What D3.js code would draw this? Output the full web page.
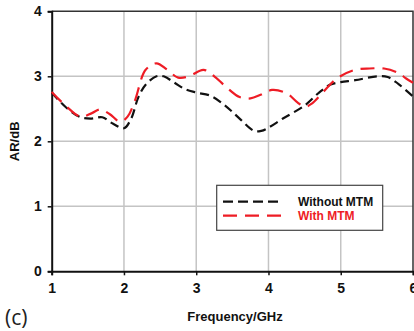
<!DOCTYPE html>
<html>
<head>
<meta charset="utf-8">
<script src="https://cdn.jsdelivr.net/npm/d3@7"></script>
<style>
  body { margin: 0; background: white; }
  text { font-family: "Liberation Sans", Arial, sans-serif; }
</style>
</head>
<body>
<div id="chart"></div>
<script>
// frequency (GHz) / axial ratio (dB)
var freqWithout = [1.0, 1.2, 1.4, 1.55, 1.7, 1.85, 2.0, 2.1, 2.2, 2.3, 2.45, 2.55, 2.7, 2.85, 3.0, 3.2, 3.4, 3.6, 3.8, 3.9, 4.0, 4.2, 4.5, 4.7, 4.85, 5.0, 5.2, 5.5, 5.65, 5.8, 6.0];
var arWithout   = [2.75, 2.52, 2.37, 2.35, 2.37, 2.27, 2.2, 2.35, 2.68, 2.87, 3.0, 3.0, 2.9, 2.8, 2.75, 2.7, 2.55, 2.35, 2.16, 2.16, 2.21, 2.35, 2.55, 2.75, 2.87, 2.91, 2.94, 3.0, 2.99, 2.88, 2.69];

var freqWith = [1.0, 1.2, 1.4, 1.55, 1.67, 1.8, 1.95, 2.05, 2.15, 2.3, 2.45, 2.6, 2.75, 2.9, 3.1, 3.25, 3.4, 3.6, 3.75, 3.9, 4.05, 4.25, 4.4, 4.5, 4.6, 4.75, 4.95, 5.2, 5.4, 5.6, 5.8, 5.9, 6.0];
var arWith   = [2.76, 2.54, 2.38, 2.43, 2.49, 2.42, 2.3, 2.38, 2.62, 3.1, 3.2, 3.1, 2.98, 3.0, 3.1, 3.0, 2.85, 2.68, 2.66, 2.72, 2.79, 2.74, 2.6, 2.53, 2.58, 2.75, 2.97, 3.1, 3.12, 3.12, 3.05, 2.97, 2.9];

var xTicks = [1, 2, 3, 4, 5, 6];
var yTicks = [0, 1, 2, 3, 4];
var seriesNames = ["Without MTM", "With MTM"];

var width = 414, height = 331;
var plotLeft = 51.7, plotRight = 413, plotTop = 11.3, plotBottom = 271.3;

var svg = d3.select("#chart").append("svg")
    .attr("width", width)
    .attr("height", height)
    .style("background", "white");

var x = d3.scaleLinear().domain([1, 6]).range([plotLeft, plotRight]);
var y = d3.scaleLinear().domain([0, 4]).range([plotBottom, plotTop]);

// grid
svg.selectAll("line.vgrid")
  .data(xTicks.slice(1, -1))
  .enter().append("line")
    .attr("x1", function(d) { return x(d); })
    .attr("x2", function(d) { return x(d); })
    .attr("y1", plotTop).attr("y2", plotBottom)
    .attr("stroke", "#c4c4c4").attr("stroke-width", 1.5);

svg.selectAll("line.hgrid")
  .data(yTicks.slice(1, -1))
  .enter().append("line")
    .attr("x1", plotLeft).attr("x2", plotRight)
    .attr("y1", function(d) { return y(d); })
    .attr("y2", function(d) { return y(d); })
    .attr("stroke", "#c4c4c4").attr("stroke-width", 1.5);

// frame top / right
svg.append("path")
    .attr("d", "M" + plotLeft + "," + plotTop + "H" + plotRight + "V" + plotBottom)
    .attr("fill", "none")
    .attr("stroke", "#333")
    .attr("stroke-width", 1.5);

// axes
var xAxis = svg.append("g")
    .attr("transform", "translate(0," + plotBottom + ")")
    .call(d3.axisBottom(x).tickValues(xTicks).tickSize(4).tickPadding(8).tickFormat(d3.format("d")));
var yAxis = svg.append("g")
    .attr("transform", "translate(" + plotLeft + ",0)")
    .call(d3.axisLeft(y).tickValues(yTicks).tickSize(4).tickPadding(6).tickFormat(d3.format("d")));

[xAxis, yAxis].forEach(function(g) {
  g.select(".domain").attr("stroke", "#111").attr("stroke-width", 2);
  g.selectAll(".tick line").attr("stroke", "#111").attr("stroke-width", 1.5);
  g.selectAll(".tick text")
    .attr("fill", "#111")
    .style("font-size", "14px")
    .style("font-weight", "bold")
    .style("font-family", "'Liberation Sans', Arial, sans-serif");
});

// lines
var line = d3.line()
    .x(function(d) { return x(d[0]); })
    .y(function(d) { return y(d[1]); })
    .curve(d3.curveCatmullRom.alpha(0.5));

var dataWithout = d3.zip(freqWithout, arWithout);
var dataWith = d3.zip(freqWith, arWith);

svg.append("path")
    .datum(dataWithout)
    .attr("d", line)
    .attr("fill", "none")
    .attr("stroke", "#111")
    .attr("stroke-width", 2.2)
    .attr("stroke-dasharray", "9,5");

svg.append("path")
    .datum(dataWith)
    .attr("d", line)
    .attr("fill", "none")
    .attr("stroke", "#ee1c25")
    .attr("stroke-width", 2.2)
    .attr("stroke-dasharray", "14,8");

// legend
var legend = svg.append("g");
legend.append("rect")
    .attr("x", 216.7).attr("y", 185.3)
    .attr("width", 166).attr("height", 45)
    .attr("fill", "white")
    .attr("stroke", "#444")
    .attr("stroke-width", 1.2);

var legendColors = ["#111", "#ee1c25"];
var legendDash = ["10,5", "14,8"];
legend.selectAll("line.leg")
  .data(seriesNames)
  .enter().append("line")
    .attr("x1", 223).attr("x2", 281)
    .attr("y1", function(d, i) { return 201.7 + i * 14; })
    .attr("y2", function(d, i) { return 201.7 + i * 14; })
    .attr("stroke", function(d, i) { return legendColors[i]; })
    .attr("stroke-width", 2.2)
    .attr("stroke-dasharray", function(d, i) { return legendDash[i]; });

legend.selectAll("text.leg")
  .data(seriesNames)
  .enter().append("text")
    .text(function(d) { return d; })
    .attr("x", 298)
    .attr("y", function(d, i) { return 201.7 + i * 14; })
    .attr("dominant-baseline", "central")
    .attr("fill", function(d, i) { return legendColors[i]; })
    .style("font-size", "12px")
    .style("font-weight", "bold");

// axis titles
svg.append("text")
    .text("Frequency/GHz")
    .attr("x", 235).attr("y", 321)
    .attr("text-anchor", "middle")
    .attr("fill", "#111")
    .style("font-size", "13px")
    .style("font-weight", "bold");

svg.append("text")
    .text("AR/dB")
    .attr("transform", "translate(19," + ((plotTop + plotBottom) / 2) + ") rotate(-90)")
    .attr("text-anchor", "middle")
    .attr("fill", "#111")
    .style("font-size", "13px")
    .style("font-weight", "bold");

svg.append("text")
    .text("(c)")
    .attr("x", 5).attr("y", 325)
    .attr("fill", "#222")
    .style("font-size", "21px")
    .style("font-family", "'Open Sans', sans-serif");
</script>
</body>
</html>
